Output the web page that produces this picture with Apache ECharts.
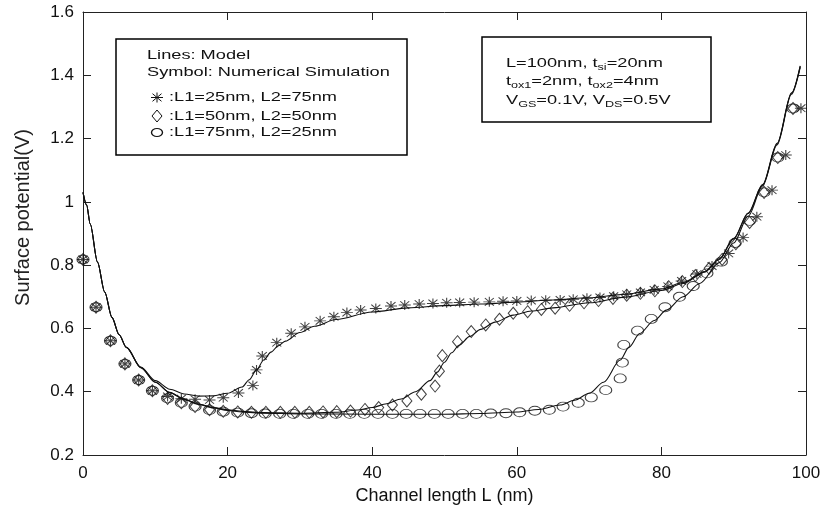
<!DOCTYPE html>
<html><head><meta charset="utf-8">
<script src="https://cdn.jsdelivr.net/npm/echarts@6/dist/echarts.min.js"></script>
<style>html,body{margin:0;padding:0;background:#fff}#c{width:822px;height:506px}</style>
</head><body><div id="c"></div>
<script>
// ---- tick labels ----
const xTickValues = [0, 20, 40, 60, 80, 100];
const yTickValues = [0.2, 0.4, 0.6, 0.8, 1.0, 1.2, 1.4, 1.6];

// ---- numerical simulation (symbols) ----
const starX = [0,1.8,3.8,5.8,7.7,9.6,11.7,13.6,15.5,17.5,19.4,21.5,23.5,24.0,24.8,26.8,28.8,30.7,32.8,34.7,36.5,38.4,40.5,42.6,44.5,46.5,48.4,50.3,52.1,54.1,56.2,58.1,60.0,62.0,64.0,66.0,67.8,69.7,71.5,73.4,75.2,77.1,79.0,80.9,82.8,84.9,87.0,89.3,91.3,93.2,95.3,97.2,99.3];
const starY = [0.818,0.667,0.561,0.488,0.437,0.403,0.385,0.378,0.376,0.374,0.381,0.396,0.42,0.469,0.513,0.555,0.585,0.605,0.624,0.637,0.65,0.658,0.663,0.671,0.674,0.677,0.679,0.681,0.682,0.683,0.684,0.686,0.687,0.688,0.689,0.69,0.692,0.695,0.698,0.702,0.708,0.714,0.722,0.733,0.75,0.772,0.797,0.837,0.887,0.953,1.037,1.148,1.296];

const diamX = [0,1.8,3.8,5.8,7.7,9.6,11.7,13.6,15.5,17.5,19.4,21.4,23.3,25.3,27.3,29.3,31.3,33.2,35.1,37.0,39.0,40.9,42.8,44.8,46.8,48.7,49.3,49.7,51.8,53.7,55.7,57.6,59.5,61.5,63.4,65.3,67.3,69.3,71.3,73.3,75.2,77.1,79.1,81.0,82.9,84.7,86.6,88.4,90.3,92.2,94.2,96.1,98.2];
const diamY = [0.818,0.667,0.561,0.488,0.437,0.403,0.379,0.365,0.353,0.343,0.338,0.336,0.335,0.335,0.335,0.335,0.335,0.336,0.337,0.339,0.344,0.35,0.358,0.371,0.392,0.418,0.465,0.514,0.558,0.59,0.611,0.629,0.648,0.653,0.66,0.664,0.673,0.681,0.688,0.695,0.705,0.711,0.719,0.732,0.748,0.767,0.79,0.818,0.868,0.935,1.03,1.14,1.295];

const circX = [0,1.8,3.8,5.8,7.7,9.6,11.7,13.6,15.5,17.5,19.4,21.4,23.3,25.2,27.2,29.1,31.1,33.0,35.0,36.9,38.9,40.8,42.8,44.7,46.6,48.6,50.5,52.5,54.4,56.4,58.5,60.4,62.5,64.5,66.4,68.5,70.3,72.3,74.3,74.6,74.8,76.7,78.6,80.5,82.5,84.4,86.3,88.3,90.2,92.2,94.2,96.1,98.2];
const circY = [0.818,0.667,0.561,0.488,0.437,0.403,0.379,0.365,0.353,0.342,0.337,0.334,0.332,0.331,0.33,0.33,0.33,0.33,0.33,0.33,0.33,0.33,0.33,0.33,0.33,0.33,0.33,0.33,0.33,0.331,0.332,0.335,0.34,0.343,0.353,0.365,0.382,0.405,0.442,0.492,0.548,0.593,0.63,0.667,0.70,0.734,0.774,0.811,0.87,0.94,1.03,1.14,1.295];

// ---- model (lines) ----
const model1X = [0,0.5,1,2,3,4,5,6,8,10,12,14,16,18,20,22,23,24,25,26,27,28,30,32,35,40,45,50,55,60,65,70,75,80,83,86,88,90,92,94,96,98,99.2];
const model1Y = [1.03,0.99,0.93,0.81,0.715,0.635,0.58,0.54,0.478,0.435,0.408,0.393,0.386,0.387,0.395,0.415,0.438,0.469,0.50,0.525,0.545,0.56,0.587,0.607,0.628,0.652,0.665,0.672,0.677,0.683,0.69,0.697,0.708,0.725,0.745,0.78,0.82,0.885,0.965,1.055,1.185,1.345,1.43];

const model2X = [0,0.5,1,2,3,4,5,6,8,10,12,14,16,18,20,22,25,30,35,38,40,42,44,46,48,49,50,51,52,53.5,55,57,59.5,62,65,70,75,80,83,86,88,90,92,94,96,98,99.2];
const model2Y = [1.03,0.99,0.93,0.81,0.715,0.635,0.58,0.54,0.476,0.43,0.398,0.376,0.361,0.35,0.343,0.338,0.334,0.332,0.335,0.342,0.35,0.362,0.377,0.4,0.435,0.462,0.493,0.523,0.547,0.575,0.597,0.62,0.642,0.655,0.665,0.681,0.699,0.72,0.742,0.778,0.818,0.883,0.963,1.053,1.183,1.343,1.428];

const model3X = [0,0.5,1,2,3,4,5,6,8,10,12,14,16,18,20,22,25,30,40,50,55,60,63,66,68,70,72,74.3,75.5,77,79,80.7,83,85.3,88,90,92,94,96,98,99.2];
const model3Y = [1.03,0.99,0.93,0.81,0.715,0.635,0.58,0.54,0.476,0.43,0.397,0.375,0.36,0.349,0.341,0.336,0.332,0.33,0.329,0.329,0.331,0.336,0.344,0.358,0.373,0.395,0.43,0.50,0.54,0.584,0.625,0.658,0.70,0.742,0.808,0.87,0.955,1.05,1.18,1.34,1.425];

// ---- texts ----
const legendHeader = ['Lines: Model', 'Symbol: Numerical Simulation'];
const seriesNames = [':L1=25nm, L2=75nm', ':L1=50nm, L2=50nm', ':L1=75nm, L2=25nm'];
const paramLines = ['L=100nm, t{s|si}=20nm', 't{s|ox1}=2nm, t{s|ox2}=4nm', 'V{s|GS}=0.1V, V{s|DS}=0.5V'];

const zip = (xs, ys) => xs.map((x, i) => [x, ys[i]]);
const FONT = 'Liberation Sans, Arial, Helvetica, sans-serif';
const INK = '#111';
const STAR = 'path://M-6,0L6,0M0,-5L0,5M-4.5,-3.8L4.5,3.8M-4.5,3.8L4.5,-3.8';
const SX = 1.4;

const chart = echarts.init(document.getElementById('c'), null, {renderer: 'canvas'});

function lineSeries(xs, ys) {
  return {type: 'line', data: zip(xs, ys), showSymbol: false, smooth: 0.3, smoothMonotone: 'x',
    lineStyle: {color: '#111', width: 1.1}, silent: true, z: 2, animation: false};
}
function scatterSeries(name, xs, ys, symbol, size) {
  return {type: 'scatter', name, data: zip(xs, ys), symbol, symbolSize: size,
    itemStyle: {color: 'transparent', borderColor: INK, borderWidth: 1}, z: 3, animation: false};
}

const axisCommon = {
  axisLine: {show: true, onZero: false, lineStyle: {color: '#222', width: 1}},
  axisTick: {show: true, inside: true, length: 8, lineStyle: {color: '#222', width: 1}},
  splitLine: {show: false}
};

const legendRowsY = [97.5, 116, 132.5];
const symX = 157;
const lineStyleIcon = {stroke: INK, lineWidth: 1};

const graphics = [
  {type: 'rect', shape: {x: 116, y: 39, width: 291, height: 116}, style: {fill: '#fff', stroke: '#000', lineWidth: 1.5}, z: 10},
  {type: 'text', x: 147, y: 55, scaleX: SX, style: {text: legendHeader[0], font: '13px ' + FONT, fill: INK, textVerticalAlign: 'middle'}, z: 11},
  {type: 'text', x: 147, y: 72, scaleX: SX, style: {text: legendHeader[1], font: '13px ' + FONT, fill: INK, textVerticalAlign: 'middle'}, z: 11},
  // star icon
  {type: 'group', x: symX, y: legendRowsY[0], z: 11, children: [
    {type: 'line', shape: {x1: -6, y1: 0, x2: 6, y2: 0}, style: lineStyleIcon, z: 11},
    {type: 'line', shape: {x1: 0, y1: -5, x2: 0, y2: 5}, style: lineStyleIcon, z: 11},
    {type: 'line', shape: {x1: -4.5, y1: -3.8, x2: 4.5, y2: 3.8}, style: lineStyleIcon, z: 11},
    {type: 'line', shape: {x1: -4.5, y1: 3.8, x2: 4.5, y2: -3.8}, style: lineStyleIcon, z: 11}
  ]},
  // diamond icon
  {type: 'polygon', x: symX, y: legendRowsY[1], shape: {points: [[0,-6],[5,0],[0,6],[-5,0]]}, style: {fill: 'none', stroke: INK, lineWidth: 1}, z: 11},
  // circle icon
  {type: 'circle', x: symX, y: legendRowsY[2], scaleX: 1.375, shape: {cx: 0, cy: 0, r: 4}, style: {fill: 'none', stroke: INK, lineWidth: 1}, z: 11},
  // param box
  {type: 'rect', shape: {x: 482, y: 37, width: 229, height: 85}, style: {fill: '#fff', stroke: '#000', lineWidth: 1.5}, z: 10}
];
seriesNames.forEach((t, i) => graphics.push(
  {type: 'text', x: 169, y: legendRowsY[i], scaleX: SX, style: {text: t, font: '13px ' + FONT, fill: INK, textVerticalAlign: 'middle'}, z: 11}
));
const paramRowsY = [63, 81.5, 100];
paramLines.forEach((t, i) => graphics.push(
  {type: 'text', x: 506, y: paramRowsY[i], scaleX: SX, style: {text: t, fontSize: 13, fontFamily: FONT, fill: INK,
    textVerticalAlign: 'middle', lineHeight: 18,
    rich: {s: {fontSize: 9, fontFamily: FONT, fill: INK, verticalAlign: 'bottom', lineHeight: 9}}}, z: 11}
));

chart.setOption({
  backgroundColor: '#fff',
  animation: false,
  grid: {left: 83, right: 16, top: 12, bottom: 51, outerBoundsMode: 'none'},
  xAxis: [
    Object.assign({type: 'value', min: xTickValues[0], max: xTickValues[xTickValues.length - 1], interval: 20,
      name: 'Channel length L (nm)', nameLocation: 'middle', nameGap: 27,
      nameTextStyle: {fontSize: 18, fontFamily: FONT, color: INK},
      axisLabel: {fontSize: 17, fontFamily: FONT, color: INK, margin: 10}}, axisCommon),
    Object.assign({type: 'value', position: 'top', min: 0, max: 100, interval: 20, axisLabel: {show: false}}, axisCommon)
  ],
  yAxis: [
    Object.assign({type: 'value', min: yTickValues[0], max: yTickValues[yTickValues.length - 1], interval: 0.2,
      name: 'Surface potential(V)', nameLocation: 'middle', nameGap: 50,
      nameTextStyle: {fontSize: 20, fontFamily: FONT, color: '#222', padding: [0, 0, 0, 32]},
      axisLabel: {fontSize: 17, fontFamily: FONT, color: INK, margin: 9,
        formatter: v => String(Math.round(v * 10) / 10)}}, axisCommon),
    Object.assign({type: 'value', position: 'right', min: 0.2, max: 1.6, interval: 0.2, axisLabel: {show: false}}, axisCommon)
  ],
  series: [
    lineSeries(model1X, model1Y),
    lineSeries(model2X, model2Y),
    lineSeries(model3X, model3Y),
    scatterSeries(seriesNames[0], starX, starY, STAR, [12, 10]),
    scatterSeries(seriesNames[1], diamX, diamY, 'diamond', [10, 12]),
    scatterSeries(seriesNames[2], circX, circY, 'circle', [12, 9])
  ],
  graphic: graphics
});
</script></body></html>
